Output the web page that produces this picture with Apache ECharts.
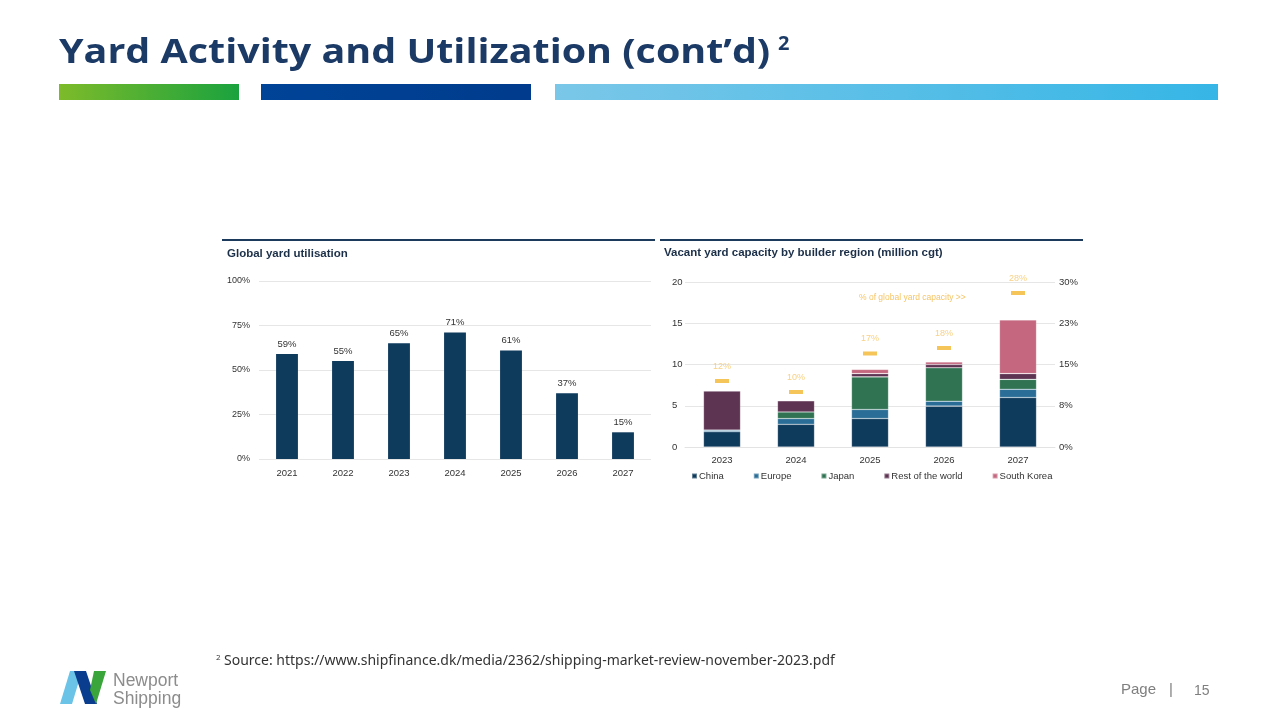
<!DOCTYPE html>
<html>
<head>
<meta charset="utf-8">
<script src="https://cdn.jsdelivr.net/npm/echarts@6/dist/echarts.min.js"></script>
<style>
html,body{margin:0;padding:0;background:#fff;}
#c{width:1280px;height:720px;}
</style>
</head>
<body>
<div id="c"></div>
<script>
// ---- Data ----
const utilYears = ['2021','2022','2023','2024','2025','2026','2027'];
const utilValues = [59, 55, 65, 71, 61, 37, 15];
const utilTicks = ['0%','25%','50%','75%','100%'];

const capYears = ['2023','2024','2025','2026','2027'];
const china = [1.85, 2.75, 3.45, 4.95, 6.0];
const europe = [0.2, 0.7, 1.1, 0.6, 1.0];
const japan = [0, 0.8, 3.95, 4.05, 1.2];
const restOfWorld = [4.75, 1.35, 0.4, 0.4, 0.7];
const southKorea = [0, 0, 0.5, 0.3, 6.5];
const shareOfGlobal = [12, 10, 17, 18, 28];
const regionNames = ['China','Europe','Japan','Rest of the world','South Korea'];

const FONT = '"Liberation Sans", Arial, sans-serif';
const colors = {
  China:'#0e3a5c', Europe:'#2a6e97', Japan:'#2f7352',
  'Rest of the world':'#5e3453', 'South Korea':'#c4677f'
};
const regionData = [china, europe, japan, restOfWorld, southKorea];

const chart = echarts.init(document.getElementById('c'), null, {renderer:'canvas'});

const stackSeries = regionNames.map((n, i) => ({
  name: n, type: 'bar', stack: 'cap', xAxisIndex: 1, yAxisIndex: 1,
  data: regionData[i], barWidth: '50%',
  itemStyle: {color: colors[n], borderColor: 'rgba(255,255,255,0.35)', borderWidth: 0.6},
  emphasis: {disabled: true}
}));

const option = {
  animation: false,
  textStyle: {fontFamily: FONT},
  grid: [
    {left: 259, top: 281, width: 392, height: 178},
    {left: 685, top: 282, width: 370, height: 165}
  ],
  xAxis: [
    {gridIndex: 0, type: 'category', data: utilYears,
     axisLine: {show: false}, axisTick: {show: false},
     axisLabel: {color: '#333', fontSize: 9.5, margin: 9, fontFamily: FONT}},
    {gridIndex: 1, type: 'category', data: capYears,
     axisLine: {show: true, lineStyle: {color: '#e3e3e3'}}, axisTick: {show: false},
     axisLabel: {color: '#333', fontSize: 9.5, margin: 8, fontFamily: FONT}}
  ],
  yAxis: [
    {gridIndex: 0, type: 'value', min: 0, max: 100, interval: 25,
     axisLabel: {color: '#333', fontSize: 9, margin: 9, fontFamily: FONT,
       formatter: v => utilTicks[Math.round(v / 25)]},
     splitLine: {lineStyle: {color: '#e6e6e6'}}},
    {gridIndex: 1, type: 'value', min: 0, max: 20, interval: 5,
     axisLabel: {color: '#333', fontSize: 9.5, margin: 13, fontFamily: FONT, align: 'left'},
     splitLine: {lineStyle: {color: '#e6e6e6'}}},
    {gridIndex: 1, type: 'value', min: 0, max: 30, interval: 7.5, position: 'right',
     axisLabel: {color: '#333', fontSize: 9.5, margin: 4, fontFamily: FONT,
       formatter: v => Math.round(v) + '%'},
     splitLine: {show: false}, axisLine: {show: false}, axisTick: {show: false}}
  ],
  legend: {
    data: regionNames.map(n => ({name: n, itemStyle: {color: colors[n]}})),
    left: 686, top: 466, itemWidth: 5, itemHeight: 5, itemGap: 29,
    icon: 'rect', selectedMode: false,
    textStyle: {fontSize: 9.5, color: '#333', fontFamily: FONT, padding: [0,0,0,-3]}
  },
  series: [
    {type: 'bar', xAxisIndex: 0, yAxisIndex: 0, data: utilValues, barWidth: '39%',
     itemStyle: {color: '#0e3a5c'},
     label: {show: true, position: 'top', distance: 5, formatter: p => p.value + '%',
       fontSize: 9.5, color: '#333', fontFamily: FONT},
     emphasis: {disabled: true}},
    ...stackSeries,
    {type: 'scatter', xAxisIndex: 1, yAxisIndex: 2, data: shareOfGlobal,
     symbol: 'rect', symbolSize: [14, 4], itemStyle: {color: '#f4b731'},
     label: {show: true, position: 'top', distance: 8, formatter: p => p.value + '%',
       fontSize: 9, color: '#f6c565', fontFamily: FONT},
     emphasis: {disabled: true}, z: 5}
  ],
  graphic: [
    // slide title
    {type: 'text', x: 59, y: 36, scaleX: 1.16, style: {text: 'Yard Activity and Utilization (cont\u2019d)',
      font: 'bold 34px "Open Sans", sans-serif', fill: '#1c3a66', textVerticalAlign: 'top'}},
    {type: 'text', left: 778, top: 34, style: {text: '2',
      font: 'bold 20px "Open Sans", sans-serif', fill: '#1c3a66'}},
    // colored bars
    {type: 'rect', shape: {x: 59, y: 84, width: 180, height: 16},
     style: {fill: new echarts.graphic.LinearGradient(0,0,1,0,[{offset:0,color:'#7dbb2a'},{offset:1,color:'#1aa23e'}])}},
    {type: 'rect', shape: {x: 261, y: 84, width: 270, height: 16},
     style: {fill: new echarts.graphic.LinearGradient(0,0,1,0,[{offset:0,color:'#004497'},{offset:1,color:'#003b8d'}])}},
    {type: 'rect', shape: {x: 555, y: 84, width: 663, height: 16},
     style: {fill: new echarts.graphic.LinearGradient(0,0,1,0,[{offset:0,color:'#7ac7e8'},{offset:1,color:'#36b6e6'}])}},
    // chart header lines and titles
    {type: 'rect', shape: {x: 222, y: 239, width: 433, height: 2}, style: {fill: '#1b3a5c'}},
    {type: 'rect', shape: {x: 660, y: 239, width: 423, height: 2}, style: {fill: '#1b3a5c'}},
    {type: 'text', left: 227, top: 248, style: {text: 'Global yard utilisation',
      font: 'bold 11.5px "Liberation Sans", Arial, sans-serif', fill: '#1b2f48'}},
    {type: 'text', left: 664, top: 247, style: {text: 'Vacant yard capacity by builder region (million cgt)',
      font: 'bold 11.5px "Liberation Sans", Arial, sans-serif', fill: '#1b2f48'}},
    {type: 'text', left: 859, top: 293, style: {text: '% of global yard capacity >>',
      font: '8.5px "Liberation Sans", Arial, sans-serif', fill: '#f6c565'}},
    // footnote
    {type: 'text', left: 216, top: 654, style: {text: '2', font: '8px "Open Sans", sans-serif', fill: '#333'}},
    {type: 'text', left: 224, top: 654, style: {text: 'Source: https://www.shipfinance.dk/media/2362/shipping-market-review-november-2023.pdf',
      font: '14px "Noto Sans", sans-serif', fill: '#333'}},
    // logo
    {type: 'polygon', shape: {points: [[70,671],[82,671],[72,704],[60,704]]}, style: {fill: '#6cc3e8'}},
    {type: 'polygon', shape: {points: [[74,671],[86,671],[97,704],[85,704]]}, style: {fill: '#0b3d8f'}},
    {type: 'polygon', shape: {points: [[94,671],[106,671],[96,704],[90,690]]}, style: {fill: '#3aa53a'}},
    {type: 'text', left: 113, top: 672, style: {text: 'Newport', font: '17.5px "Liberation Sans", Arial, sans-serif', fill: '#8c8c8c'}},
    {type: 'text', left: 113, top: 690, style: {text: 'Shipping', font: '17.5px "Liberation Sans", Arial, sans-serif', fill: '#8c8c8c'}},
    // page number
    {type: 'text', left: 1121, top: 682, style: {text: 'Page', font: '15px "Liberation Sans", Arial, sans-serif', fill: '#7f7f7f'}},
    {type: 'text', left: 1169, top: 682, style: {text: '|', font: '15px "Liberation Sans", Arial, sans-serif', fill: '#7f7f7f'}},
    {type: 'text', left: 1194, top: 684, style: {text: '15', font: '14px "Liberation Sans", Arial, sans-serif', fill: '#7f7f7f'}}
  ]
};
chart.setOption(option);
</script>
</body>
</html>
